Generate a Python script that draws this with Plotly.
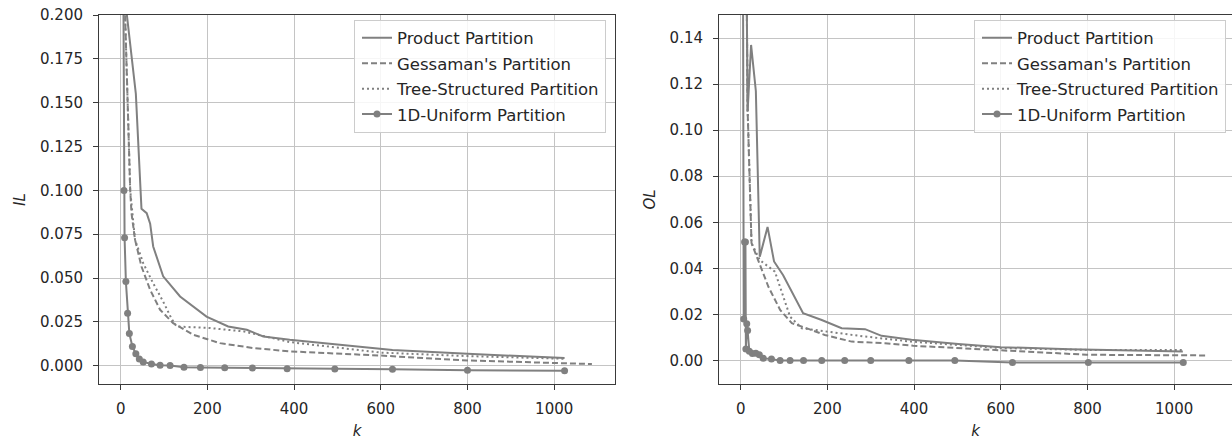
import plotly.graph_objects as go

# ---------------- data ----------------
series_names = ["Product Partition", "Gessaman's Partition", "Tree-Structured Partition", "1D-Uniform Partition"]

# Left panel: IL vs k
k_prod_il = [4, 12, 35, 48, 60, 68, 75, 98, 137, 198, 248, 291, 329, 390, 494, 627, 800, 1024]
il_prod = [0.5, 0.205, 0.155, 0.0895, 0.087, 0.081, 0.068, 0.051, 0.0395, 0.028, 0.0224, 0.0205, 0.0167, 0.0148, 0.0122, 0.009, 0.0068, 0.0044]

k_gess_il = [5, 9, 22, 25, 33, 48, 68, 91, 121, 167, 229, 306, 390, 600, 800, 1000, 1087]
il_gess = [0.6, 0.21, 0.1, 0.087, 0.072, 0.0566, 0.0433, 0.0319, 0.0243, 0.0177, 0.0129, 0.0101, 0.0082, 0.0058, 0.003, 0.0015, 0.001]

k_tree_il = [5, 9, 22, 33, 52, 75, 98, 117, 129, 206, 283, 390, 600, 800, 1024]
il_tree = [0.6, 0.21, 0.1, 0.072, 0.0585, 0.047, 0.0366, 0.027, 0.0224, 0.0215, 0.0196, 0.0135, 0.0075, 0.0055, 0.004]

k_unif_il = [4, 7.6, 9, 12, 16, 20, 27, 35, 43, 52, 71, 91, 114, 146, 184, 240, 304, 384, 494, 627, 800, 1024]
il_unif = [0.33, 0.1, 0.073, 0.048, 0.030, 0.0184, 0.011, 0.0068, 0.0038, 0.0022, 0.001, 0.0003, 0.0001,
           -0.0008, -0.001, -0.0011, -0.0013, -0.0017, -0.0019, -0.002, -0.0026, -0.0028]

# Right panel: OL vs k
k_prod_ol = [4, 16, 24, 35, 44, 62, 77, 98, 144, 187, 233, 287, 325, 394, 502, 600, 760, 1020]
ol_prod = [0.4, 0.108, 0.137, 0.117, 0.045, 0.058, 0.043, 0.037, 0.0205, 0.0176, 0.014, 0.0136, 0.0107, 0.009, 0.0072, 0.0058, 0.0049, 0.0039]

k_gess_ol = [4, 16, 25, 41, 64, 91, 118, 148, 194, 256, 333, 398, 502, 598, 798, 1078]
ol_gess = [0.4, 0.109, 0.051, 0.043, 0.032, 0.022, 0.0162, 0.0143, 0.0111, 0.0082, 0.0075, 0.0064, 0.0054, 0.0046, 0.0025, 0.0022]

k_tree_ol = [4, 16, 25, 44, 79, 95, 114, 141, 194, 287, 394, 502, 600, 800, 1020]
ol_tree = [0.4, 0.109, 0.051, 0.0436, 0.0386, 0.0292, 0.019, 0.014, 0.0126, 0.0104, 0.0082, 0.0068, 0.0054, 0.0046, 0.0046]

k_unif_ol = [4, 7, 9, 11, 12, 14, 16, 20, 27, 35, 43, 52, 71, 91, 114, 145, 187, 240, 300, 388, 494, 627, 802, 1021]
ol_unif = [0.3, 0.018, 0.0515, 0.0515, 0.005, 0.016, 0.013, 0.004, 0.003, 0.0032, 0.0025, 0.001, 0.0006,
           0.0, 0.0, 0.0, 0.0, 0.0, 0.0, 0.0, 0.0, -0.0009, -0.0009, -0.0009]

il_ticks = [0.0, 0.025, 0.05, 0.075, 0.1, 0.125, 0.15, 0.175, 0.2]
ol_ticks = [0.0, 0.02, 0.04, 0.06, 0.08, 0.10, 0.12, 0.14]
k_ticks = [0, 200, 400, 600, 800, 1000]

# ---------------- styling ----------------
W, H = 1232, 440
GRAY = "#808080"
FONT = "DejaVu Sans"
FS = 15
LFS = 16.5
styles = [
    dict(dash="solid", marker=False),
    dict(dash="6px,3px", marker=False),
    dict(dash="2px,3px", marker=False),
    dict(dash="solid", marker=True),
]

fig = go.Figure()

panels = [
    ("x", "y", "legend", [(k_prod_il, il_prod), (k_gess_il, il_gess), (k_tree_il, il_tree), (k_unif_il, il_unif)]),
    ("x2", "y2", "legend2", [(k_prod_ol, ol_prod), (k_gess_ol, ol_gess), (k_tree_ol, ol_tree), (k_unif_ol, ol_unif)]),
]

for xa, ya, lg, data in panels:
    for i, ((kx, vy), name, st) in enumerate(zip(data, series_names, styles)):
        fig.add_trace(go.Scatter(
            x=kx, y=vy, name=name, xaxis=xa, yaxis=ya, legend=lg,
            legendgroup=f"{lg}_{i}",
            mode="lines+markers" if st["marker"] else "lines",
            line=dict(color=GRAY, width=2, dash=st["dash"]),
            marker=dict(color=GRAY, size=7) if st["marker"] else None,
        ))

axis_common = dict(
    showgrid=True, gridcolor="#c4c4c4", gridwidth=1,
    showline=True, linecolor="#3a3a3a", linewidth=1,
    ticks="outside", ticklen=5, tickcolor="#3a3a3a", tickwidth=1,
    tickfont=dict(family=FONT, size=FS, color="#262626"),
    zeroline=False, automargin=False,
)

L0, L1 = 99 / W, 615 / W
R0, R1 = 719 / W, 1.0

legend_common = dict(
    xanchor="right", yanchor="top",
    bgcolor="rgba(255,255,255,0.85)", bordercolor="#cccccc", borderwidth=1,
    font=dict(family=FONT, size=LFS, color="#262626"), tracegroupgap=1,
    indentation=2,
)

fig.update_layout(
    width=W, height=H,
    template="none",
    paper_bgcolor="white", plot_bgcolor="white",
    margin=dict(l=0, r=0, t=15, b=56),
    font=dict(family=FONT, size=FS, color="#262626"),
    xaxis=dict(domain=[L0, L1], range=[-50, 1140.3], tickvals=k_ticks, mirror=True,
               ticklabelstandoff=6,
               title=dict(text="<i>k</i>", font=dict(size=FS), standoff=8), anchor="y", **axis_common),
    yaxis=dict(domain=[0, 1], range=[-0.0104, 0.2], tickvals=il_ticks, tickformat=".3f", mirror=True,
               ticklabelstandoff=7,
               title=dict(text="<i>IL</i>", font=dict(size=FS), standoff=10), anchor="x", **axis_common),
    xaxis2=dict(domain=[R0, R1], range=[-50, 1133.4], tickvals=k_ticks, mirror=True,
                ticklabelstandoff=6,
                title=dict(text="<i>k</i>", font=dict(size=FS), standoff=8), anchor="y2", **axis_common),
    yaxis2=dict(domain=[0, 1], range=[-0.0102, 0.15], tickvals=ol_ticks, tickformat=".2f", mirror=False,
                ticklabelstandoff=7,
                title=dict(text="<i>OL</i>", font=dict(size=FS), standoff=10), anchor="x2", **axis_common),
    legend=dict(x=606 / W, y=1 - (19.5 - 15) / 369, **legend_common),
    legend2=dict(x=1226 / W, y=1 - (19.5 - 15) / 369, **legend_common),
    showlegend=True,
)

fig.write_html("out.html", config={"displayModeBar": False},
               post_script="document.body.style.margin='0';document.body.style.overflow='hidden';")
